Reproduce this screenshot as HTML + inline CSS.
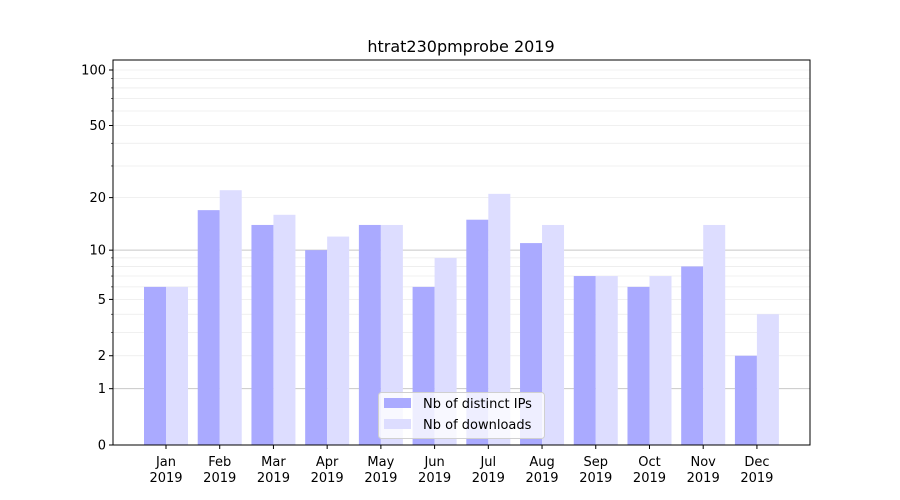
<!DOCTYPE html>
<html><head><meta charset="utf-8"><style>
body{margin:0;background:#fff;}
svg{display:block;font-family:"DejaVu Sans","Liberation Sans",sans-serif;}
</style></head><body>
<svg id="chart" width="900" height="500">
<rect width="900" height="500" fill="#fff"/>
<text x="461" y="52" font-size="16" text-anchor="middle">htrat230pmprobe 2019</text>
<g id="grid"></g><g id="bars"></g><g id="axes"></g>
</svg>
<script>
const categories=["Jan","Feb","Mar","Apr","May","Jun","Jul","Aug","Sep","Oct","Nov","Dec"];
const ipsValues=[6,17,14,10,14,6,15,11,7,6,8,2];
const downloadValues=[6,22,16,12,14,9,21,14,7,7,14,4];
const majorTicks=[0,1,2,5,10,20,50,100];
const minorTicks=[3,4,6,7,8,9,30,40,60,70,80,90];
const NS="http://www.w3.org/2000/svg";
const L=113,R=810,T=60,B=445;
function y(v){return B-187.1*Math.log10(v+1);}
function xc(i){return 166+i*53.72;}
function mk(tag,attrs,parent,txt){const e=document.createElementNS(NS,tag);for(const k in attrs)e.setAttribute(k,attrs[k]);if(txt!==undefined)e.textContent=txt;parent.appendChild(e);return e;}
const grid=document.getElementById('grid'),bars=document.getElementById('bars'),axes=document.getElementById('axes');
minorTicks.concat([2,5,20,50,100]).forEach(v=>{const l=mk('line',{x1:L,x2:R,y1:y(v),y2:y(v),stroke:'#ebebeb','stroke-width':0.8},grid);

});
[1,10].forEach(v=>{const l=mk('line',{x1:L,x2:R,y1:y(v),y2:y(v),stroke:'#c8c8c8','stroke-width':1},grid);

});
categories.forEach((c,i)=>{
const b1=mk('rect',{x:xc(i)-22,y:y(ipsValues[i]),width:22,height:B-y(ipsValues[i]),fill:'#aaaaff'},bars);


const b2=mk('rect',{x:xc(i),y:y(downloadValues[i]),width:22,height:B-y(downloadValues[i]),fill:'#ddddff'},bars);


mk('line',{x1:xc(i),x2:xc(i),y1:B,y2:B+4,stroke:'#000'},axes);
const t=mk('text',{x:xc(i),y:B+21,'font-size':13,'text-anchor':'middle'},axes);


mk('tspan',{x:xc(i)},t,c);mk('tspan',{x:xc(i),dy:16},t,'2019');
});
majorTicks.forEach(v=>{mk('line',{x1:L-4,x2:L,y1:y(v),y2:y(v),stroke:'#000'},axes);
const t=mk('text',{x:L-7,y:y(v)+4.5,'font-size':13,'text-anchor':'end'},axes,String(v));

});
minorTicks.forEach(v=>{mk('line',{x1:L-2,x2:L,y1:y(v),y2:y(v),stroke:'#000','stroke-width':0.6},axes);});
const fr=mk('rect',{x:L,y:T,width:R-L,height:B-T,fill:'none',stroke:'#000','stroke-width':1},axes);


const lg=mk('g',{},axes);


mk('rect',{x:378.5,y:392.5,width:166,height:46,rx:3,fill:'#fff','fill-opacity':0.8,stroke:'#d0d0d0'},lg);
mk('rect',{x:384,y:398,width:27,height:10,fill:'#aaaaff'},lg);
mk('rect',{x:384,y:419,width:27,height:10,fill:'#ddddff'},lg);
mk('text',{x:423,y:408,'font-size':13},lg,'Nb of distinct IPs');
mk('text',{x:423,y:429,'font-size':13},lg,'Nb of downloads');
</script>
</body></html>
